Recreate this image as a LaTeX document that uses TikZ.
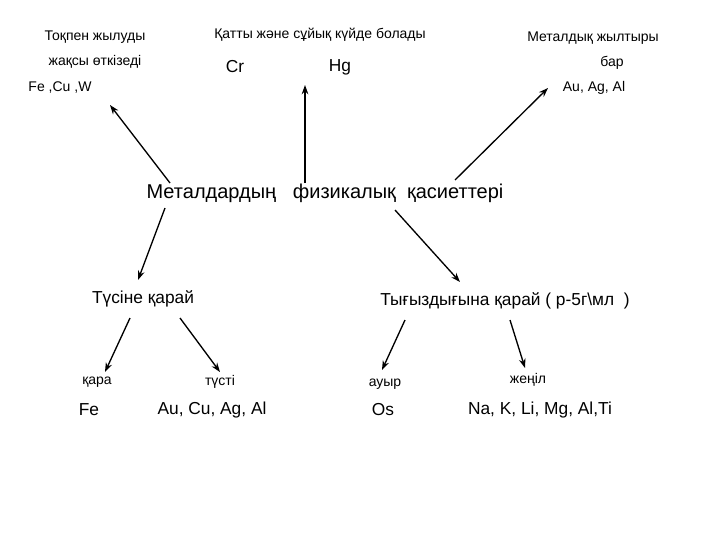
\documentclass[tikz,border=0pt]{standalone}
\usepackage{fontspec}
\setmainfont{Liberation Sans}
\usetikzlibrary{arrows.meta}
\begin{document}
\begin{tikzpicture}[x=0.75pt,y=-0.75pt,
  sm/.style={font=\fontsize{10.5}{12}\selectfont,inner sep=0pt},
  md/.style={font=\fontsize{13}{15}\selectfont,inner sep=0pt},
  lg/.style={font=\fontsize{15}{18}\selectfont,inner sep=0pt},
  arr/.style={-{Stealth[length=7pt,width=5pt]},line width=1pt}]
\useasboundingbox (0,0) rectangle (720,540);
\fill[white] (0,0) rectangle (720,540);
\node[sm] (t1) at (95,37) {Тоқпен жылуды};
\node[sm] (t2) at (95,62) {жақсы өткізеді};
\node[sm] (t3) at (60,88) {Fe ,Cu ,W};
\node[sm] (t4) at (320,35) {Қатты және  сұйық күйде болады};
\node[md] (t5) at (235,67) {Cr};
\node[md] (t6) at (340,67) {Hg};
\node[sm] (t7) at (593,38) {Металдық жылтыры};
\node[sm] (t8) at (612,63) {бар};
\node[sm] (t9) at (594,88) {Au, Ag, Al};
\node[lg] (m) at (325,193) {Металдардың \ \ физикалық \ қасиеттері};
\node[md] (c) at (143,299) {Түсіне қарай};
\node[md] (d) at (505,301) {Тығыздығына қарай ( p-5г\textbackslash мл \ )};
\node[sm] (k1) at (97,382) {қара};
\node[md] (k2) at (89,410) {Fe};
\node[sm] (s1) at (220,382) {түсті};
\node[md] (s2) at (212,410) {Au, Cu, Ag, Al};
\node[sm] (a1) at (385,384) {ауыр};
\node[md] (a2) at (383,410) {Os};
\node[sm] (j1) at (528,380) {жеңіл};
\node[md] (j2) at (540,410) {Na, K, Li, Mg, Al,Ti};
\coordinate (p1) at (170,183); \coordinate (q1) at (110,105);
\coordinate (p2) at (305,183); \coordinate (q2) at (305,85);
\coordinate (p3) at (455,180); \coordinate (q3) at (548,88);
\coordinate (p4) at (165,208); \coordinate (q4) at (138,280);
\coordinate (p5) at (395,210); \coordinate (q5) at (460,282);
\coordinate (p6) at (130,318); \coordinate (q6) at (105,372);
\coordinate (p7) at (180,318); \coordinate (q7) at (220,372);
\coordinate (p8) at (405,320); \coordinate (q8) at (382,370);
\coordinate (p9) at (510,320); \coordinate (q9) at (525,368);
\foreach \i in {1,...,9} \draw[arr] (p\i) -- (q\i);
\end{tikzpicture}
\end{document}
